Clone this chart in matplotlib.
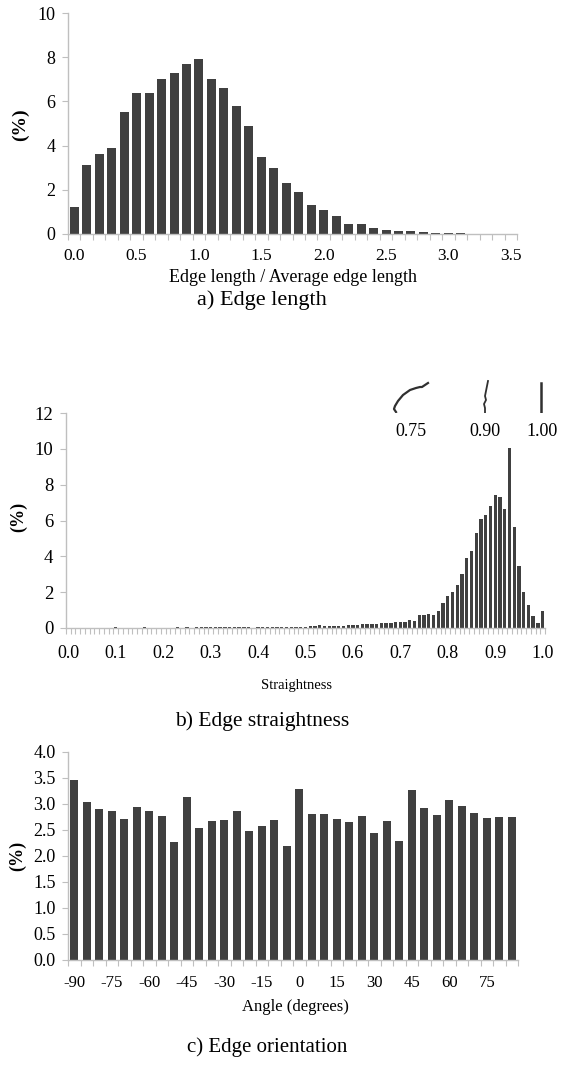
import numpy as np
import matplotlib
matplotlib.use("Agg")
import matplotlib.pyplot as plt

plt.rcParams['font.family'] = ['Liberation Serif', 'DejaVu Serif']

# a) edge length distribution (bins of 0.1)
length_labels = ["%.1f" % (0.5 * i) for i in range(8)]
length_pct = [1.2, 3.1, 3.6, 3.9, 5.5, 6.4, 6.4, 7.0, 7.3, 7.7, 7.9, 7.0, 6.6, 5.8,
              4.9, 3.5, 3.0, 2.3, 1.9, 1.3, 1.1, 0.8, 0.45, 0.45, 0.28, 0.16, 0.15,
              0.13, 0.09, 0.06, 0.06, 0.05, 0.01, 0.0, 0.0, 0.0]

# b) straightness distribution (bins of 0.01, 0.00 .. 1.00)
straight_labels = ["%.1f" % (0.1 * i) for i in range(11)]
straight_pct = [0.0, 0.0, 0.0, 0.0, 0.0, 0.0, 0.0, 0.0, 0.0, 0.0,
                0.03, 0.0, 0.0, 0.0, 0.0, 0.0, 0.03, 0.0, 0.0, 0.0,
                0.0, 0.0, 0.0, 0.03, 0.0, 0.03, 0.0, 0.04, 0.04, 0.03,
                0.03, 0.03, 0.03, 0.03, 0.03, 0.05, 0.04, 0.04, 0.03, 0.0,
                0.03, 0.04, 0.05, 0.03, 0.07, 0.08, 0.08, 0.08, 0.06, 0.08,
                0.07, 0.09, 0.09, 0.14, 0.09, 0.09, 0.09, 0.09, 0.10, 0.15,
                0.15, 0.15, 0.22, 0.20, 0.22, 0.22, 0.30, 0.30, 0.26, 0.33,
                0.35, 0.32, 0.43, 0.39, 0.73, 0.73, 0.76, 0.71, 0.97, 1.40,
                1.79, 1.99, 2.38, 3.00, 3.90, 4.30, 5.30, 6.08, 6.29, 6.79,
                7.42, 7.29, 6.62, 10.03, 5.62, 3.48, 1.99, 1.27, 0.67, 0.26,
                0.95]

# c) orientation distribution (bins of 5 degrees, -90 .. 85)
angle_labels = [str(a) for a in range(-90, 90, 15)]
angle_pct = [3.47, 3.04, 2.90, 2.87, 2.71, 2.94, 2.86, 2.76, 2.27, 3.14, 2.54, 2.67,
             2.69, 2.87, 2.49, 2.57, 2.69, 2.19, 3.28, 2.80, 2.80, 2.71, 2.66, 2.76,
             2.45, 2.67, 2.29, 3.26, 2.92, 2.79, 3.07, 2.97, 2.83, 2.73, 2.75, 2.75]

W, H = 562, 1072
BAR = '#404040'
AX = '#bfbfbf'

fig = plt.figure(figsize=(W / 100, H / 100), dpi=100)


def px_axes(x0, x1, y_top, y_bot):
    return fig.add_axes([x0 / W, 1 - y_bot / H, (x1 - x0) / W, (y_bot - y_top) / H])


def style(ax, vals, labels, step, width, ymax, ystep, yfmt, fs_y, fs_x, xpad):
    n = len(vals)
    x = np.arange(n)
    ax.bar(x, vals, width=width, color=BAR, linewidth=0)
    ax.set_xlim(-0.5, n - 0.5)
    ax.set_ylim(0, ymax)
    for s in ['top', 'right']:
        ax.spines[s].set_visible(False)
    for s in ['left', 'bottom']:
        ax.spines[s].set_color(AX)
        ax.spines[s].set_linewidth(1.0)
    ax.set_xticks(x[::step])
    ax.set_xticklabels(labels)
    ax.set_xticks(np.arange(n + 1) - 0.5, minor=True)
    ax.tick_params(axis='x', which='major', length=0, labelsize=fs_x, pad=xpad)
    ax.tick_params(axis='x', which='minor', length=4, color=AX, width=0.8)
    yt = np.arange(0, ymax + ystep / 2, ystep)
    ax.set_yticks(yt)
    ax.set_yticklabels([yfmt % v for v in yt])
    ax.tick_params(axis='y', length=4, color=AX, width=0.8, labelsize=fs_y, pad=5)


ax1 = px_axes(68, 517, 13, 234)
style(ax1, length_pct, length_labels, 5, 0.72, 10, 2, '%d', 13, 12.5, 10)
ax2 = px_axes(66, 545, 413, 628)
style(ax2, straight_pct, straight_labels, 10, 0.7, 12, 2, '%d', 13.5, 13, 12)
ax3 = px_axes(68, 518, 752, 960)
style(ax3, angle_pct, angle_labels, 3, 0.65, 4.0, 0.5, '%.1f', 13, 12, 11)


def ftext(x, y, s, **kw):
    fig.text(x / W, 1 - y / H, s, ha='center', va='center', **kw)


ftext(20, 125, '(%)', rotation=90, fontsize=14, fontweight='bold')
ftext(19, 517, '(%)', rotation=90, fontsize=13, fontweight='bold')
ftext(18, 856, '(%)', rotation=90, fontsize=13, fontweight='bold')

ftext(293, 278, 'Edge length / Average edge length', fontsize=13)
ftext(262, 300, 'a) Edge length', fontsize=16)
ftext(297, 685, 'Straightness', fontsize=10.5)
ftext(262, 721, 'b) Edge straightness', fontsize=15.5)
ftext(295, 1007, 'Angle (degrees)', fontsize=12)
ftext(267, 1047, 'c) Edge orientation', fontsize=15)

# small edge sketches above panel b
ov = fig.add_axes([0, 0, 1, 1], zorder=-1)
ov.set_xlim(0, W)
ov.set_ylim(H, 0)
ov.axis('off')
curve_75_x = [396, 394, 395, 398, 403, 410, 416, 420, 422, 425, 428]
curve_75_y = [412, 409, 406, 401, 395, 390, 388, 387, 387, 385, 383]
curve_90_x = [488, 487, 486, 485, 486, 484, 485, 485]
curve_90_y = [381, 386, 391, 396, 400, 404, 408, 415]
ov.plot(curve_75_x, curve_75_y, color='#303030', lw=1.6)
ov.plot(curve_90_x, curve_90_y, color='#303030', lw=1.3)
ov.plot([540.5, 540.5], [383, 414], color='#303030', lw=1.8)
ftext(411, 431, '0.75', fontsize=13)
ftext(485, 431, '0.90', fontsize=13)
ftext(542, 431, '1.00', fontsize=13)

fig.savefig('out.png', dpi=100)
